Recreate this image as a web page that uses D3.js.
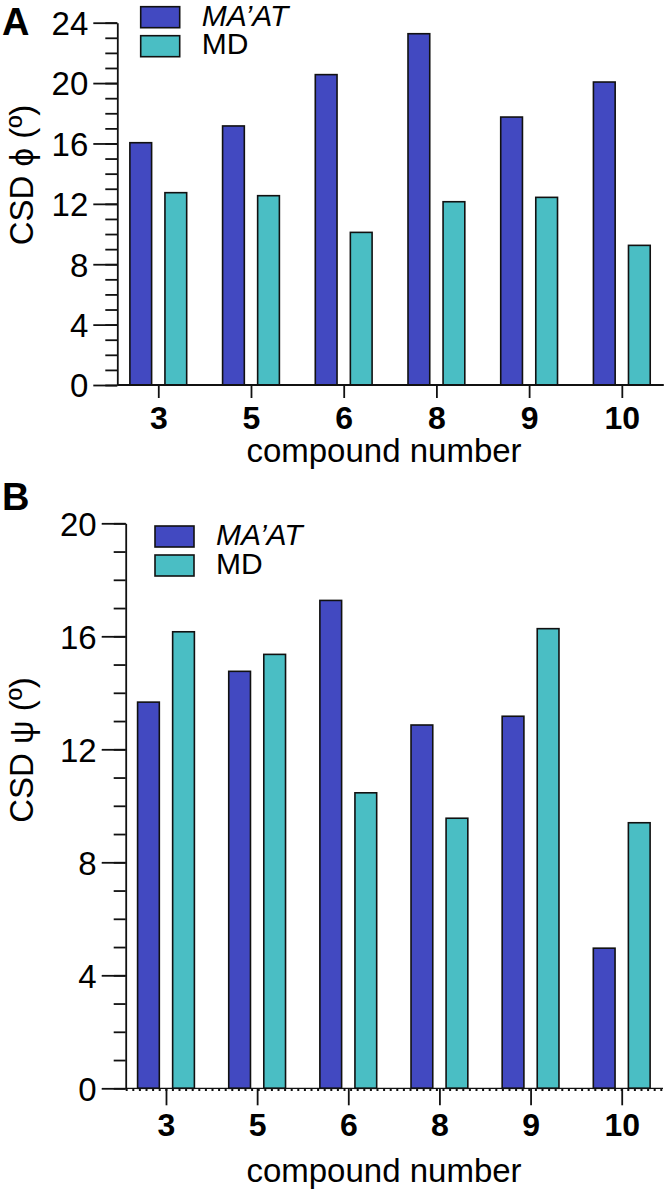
<!DOCTYPE html>
<html>
<head>
<meta charset="utf-8">
<script src="https://cdn.jsdelivr.net/npm/d3@7"></script>
<style>
  body { margin: 0; background: #fff; }
  text { font-family: "Liberation Sans", Arial, Helvetica, sans-serif; fill: #000; }
</style>
</head>
<body>
<div id="chart"></div>
<script>
// Data
const compounds = ["3", "5", "6", "8", "9", "10"];
const seriesNames = ["MA’AT", "MD"];
const phiMaat = [16.05, 17.16, 20.56, 23.27, 17.75, 20.07];
const phiMd = [12.74, 12.54, 10.11, 12.14, 12.43, 9.25];
const psiMaat = [13.67, 14.76, 17.27, 12.86, 13.17, 4.96];
const psiMd = [16.16, 15.36, 10.46, 9.56, 16.27, 9.4];
const phiTicks = [0, 4, 8, 12, 16, 20, 24];
const psiTicks = [0, 4, 8, 12, 16, 20];

const colors = ["#4249c1", "#4abec4"];
const width = 665, height = 1193;

const svg = d3.select("#chart").append("svg")
    .attr("width", width)
    .attr("height", height);

function drawPanel(p) {
    const g = svg.append("g");

    const x = d3.scalePoint()
        .domain(compounds)
        .range([p.left, p.right])
        .padding(0.442);

    const inner = d3.scaleBand()
        .domain(seriesNames)
        .range([-28.4, 28.4])
        .paddingInner(0.38);

    const y = d3.scaleLinear()
        .domain([0, d3.max(p.ticks)])
        .range([p.bottom, p.top]);

    // bars
    const rows = compounds.map((c, i) => ({c, vals: [p.a[i], p.b[i]]}));
    g.selectAll("g.grp")
        .data(rows)
        .join("g")
        .attr("transform", d => `translate(${x(d.c)},0)`)
        .selectAll("rect")
        .data(d => d.vals.map((v, k) => ({v, k})))
        .join("rect")
        .attr("x", d => inner(seriesNames[d.k]))
        .attr("width", inner.bandwidth())
        .attr("y", d => y(d.v))
        .attr("height", d => y(0) - y(d.v))
        .attr("fill", d => colors[d.k])
        .attr("stroke", "#111")
        .attr("stroke-width", 1.6);

    // y axis: minor + major ticks
    const minor = d3.range(0, d3.max(p.ticks) + 1, 1);
    g.append("g")
        .attr("transform", `translate(${p.left},0)`)
        .call(d3.axisLeft(y).tickValues(minor).tickSize(12).tickFormat(""))
        .call(a => a.select(".domain").remove())
        .call(a => a.selectAll("line").attr("stroke", "#111").attr("stroke-width", 1.8));

    g.append("g")
        .attr("transform", `translate(${p.left},0)`)
        .call(d3.axisLeft(y).tickValues(p.ticks).tickSize(24).tickSizeOuter(0).tickPadding(5))
        .call(a => a.select(".domain").attr("stroke", "#111").attr("stroke-width", 1.8))
        .call(a => a.selectAll("line").attr("stroke", "#111").attr("stroke-width", 1.8))
        .call(a => a.selectAll("text")
            .attr("font-size", 33)
            .attr("font-family", "Liberation Sans, Arial, sans-serif")
            .attr("dy", "0.36em"));

    // x axis
    const xa = g.append("g")
        .attr("transform", `translate(0,${p.bottom})`)
        .call(d3.axisBottom(x).tickSize(p.xTick).tickSizeOuter(0))
        .call(a => a.selectAll("line").attr("stroke", "#111").attr("stroke-width", 1.8))
        .call(a => a.selectAll("text")
            .attr("font-size", 32)
            .attr("font-weight", "bold")
            .attr("font-family", "Liberation Sans, Arial, sans-serif")
            .attr("y", p.xLabelY)
            .attr("dy", null));
    xa.select(".domain")
        .attr("d", `M${p.left},0H${p.right + 1}`)
        .attr("stroke", "#111")
        .attr("stroke-width", 1.8);
    if (p.dotted) {
        xa.select(".domain").attr("stroke-width", 1.2);
        xa.append("path")
            .attr("d", `M${p.left},1.5H${p.right + 1}`)
            .attr("stroke", "#111")
            .attr("stroke-width", 2.2)
            .attr("stroke-dasharray", "2,4.6")
            .attr("fill", "none");
    }

    // axis titles
    g.append("text")
        .attr("x", p.titleX)
        .attr("y", p.bottom + p.titleDy)
        .attr("text-anchor", "middle")
        .attr("font-size", 33)
        .text("compound number");

    g.append("text")
        .attr("transform", `translate(${p.yTitleX},${p.yTitleY}) rotate(-90)`)
        .attr("text-anchor", "middle")
        .attr("font-size", 33)
        .text(p.yTitle);

    // panel letter
    g.append("text")
        .attr("x", 2)
        .attr("y", p.letterY)
        .attr("font-size", 38)
        .attr("font-weight", "bold")
        .text(p.letter);

    // legend
    seriesNames.forEach((s, k) => {
        g.append("rect")
            .attr("x", p.legX)
            .attr("y", p.legY + k * 29)
            .attr("width", 39)
            .attr("height", 21)
            .attr("fill", colors[k])
            .attr("stroke", "#111")
            .attr("stroke-width", 1.6);
        g.append("text")
            .attr("x", p.legX + 61)
            .attr("y", p.legY + 19 + k * 28.5)
            .attr("font-size", 30)
            .attr("font-style", k === 0 ? "italic" : "normal")
            .text(s);
    });
}

drawPanel({
    a: phiMaat, b: phiMd, ticks: phiTicks,
    left: 117.3, right: 662.8, top: 22.7, bottom: 385,
    xTick: 13, xLabelY: 44, titleX: 384, titleDy: 77,
    yTitleX: 33, yTitleY: 175, yTitle: "CSD ϕ (º)",
    letter: "A", letterY: 35, legX: 140.7, legY: 6.7, dotted: false
});

drawPanel({
    a: psiMaat, b: psiMd, ticks: psiTicks,
    left: 125.7, right: 662, top: 523.3, bottom: 1088.3,
    xTick: 17, xLabelY: 48, titleX: 384, titleDy: 94,
    yTitleX: 33, yTitleY: 750, yTitle: "CSD ψ (º)",
    letter: "B", letterY: 510, legX: 155, legY: 526, dotted: true
});
</script>
</body>
</html>
